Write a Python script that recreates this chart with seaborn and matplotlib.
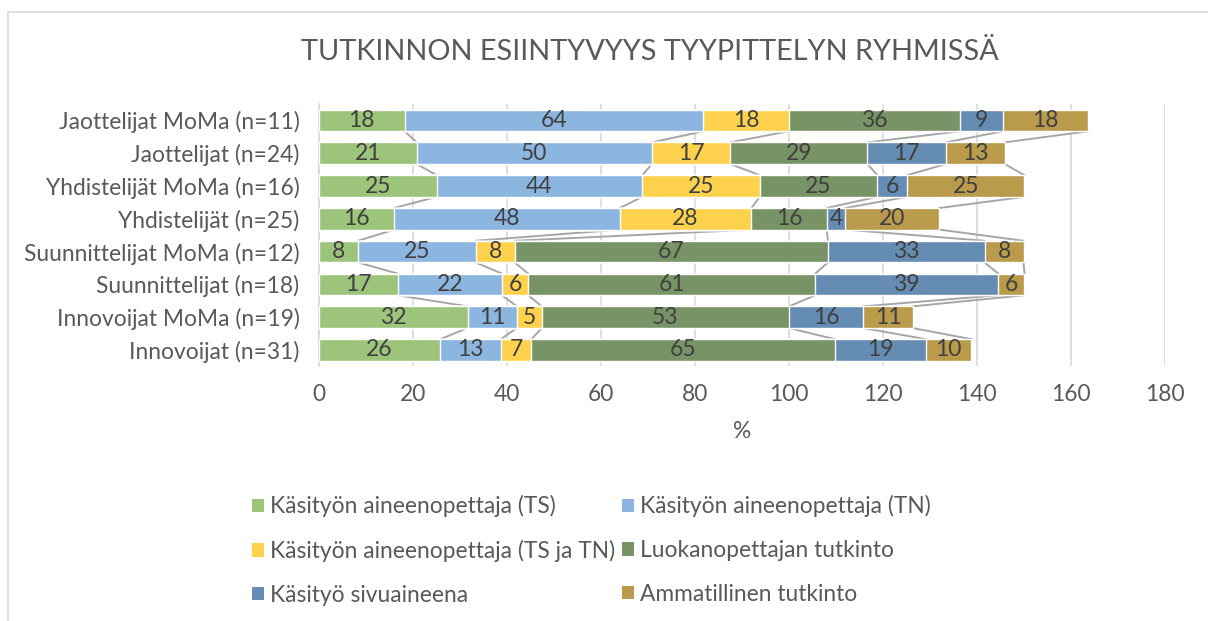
import matplotlib
matplotlib.use('Agg')
import matplotlib.pyplot as plt
import pandas as pd
import seaborn as sns
from matplotlib.patches import Patch, Rectangle

sns.set_style('white')
plt.rcParams['font.family'] = ['Lato', 'DejaVu Sans']

groups = ['Jaottelijat MoMa (n=11)', 'Jaottelijat (n=24)', 'Yhdistelijät MoMa (n=16)',
          'Yhdistelijät (n=25)', 'Suunnittelijat MoMa (n=12)', 'Suunnittelijat (n=18)',
          'Innovoijat MoMa (n=19)', 'Innovoijat (n=31)']

series_names = ['Käsityön aineenopettaja (TS)', 'Käsityön aineenopettaja (TN)',
                'Käsityön aineenopettaja (TS ja TN)', 'Luokanopettajan tutkinto',
                'Käsityö sivuaineena', 'Ammatillinen tutkinto']

ts = [18.2, 20.8, 25.0, 16.0, 8.3, 16.7, 31.6, 25.8]
tn = [63.6, 50.0, 43.8, 48.0, 25.0, 22.2, 10.5, 12.9]
ts_tn = [18.2, 16.7, 25.0, 28.0, 8.3, 5.6, 5.3, 6.5]
luokan = [36.4, 29.2, 25.0, 16.0, 66.7, 61.1, 52.6, 64.5]
sivu = [9.1, 16.7, 6.3, 4.0, 33.3, 38.9, 15.8, 19.4]
ammat = [18.2, 12.5, 25.0, 20.0, 8.3, 5.6, 10.5, 9.7]

colors = ['#9DC47B', '#8CB6E0', '#FFD24E', '#789467', '#658CB3', '#B99B4B']

df = pd.DataFrame({'group': groups})
for name, vals in zip(series_names, [ts, tn, ts_tn, luokan, sivu, ammat]):
    df[name] = vals

cum = df[series_names].cumsum(axis=1)
cum['group'] = groups

fig = plt.figure(figsize=(12.08, 6.21), dpi=100)
ax = fig.add_axes([0.2641, 0.41, 0.7003, 0.4225])

bar_h = 0.66
# stacked bars: draw running totals from the outermost segment inwards
for name, col in reversed(list(zip(series_names, colors))):
    sns.barplot(data=cum, x=name, y='group', orient='h', color=col, saturation=1,
                width=bar_h, ax=ax, zorder=3)

# series lines between neighbouring bars
for name in series_names:
    for i in range(len(groups) - 1):
        ax.plot([cum[name][i], cum[name][i + 1]], [i + bar_h / 2, i + 1 - bar_h / 2],
                color='#A6A6A6', lw=1.4, zorder=2)

# data labels
for name in series_names:
    for i in range(len(groups)):
        v = df[name][i]
        ax.text(cum[name][i] - v / 2, i, str(int(v + 0.5)), ha='center', va='center',
                fontsize=16.5, color='#404040', zorder=4)

fs = 16.4
ax.set_xlim(0, 180)
ax.set_xticks(range(0, 181, 20))
ax.set_ylim(7.5, -0.5)
ax.grid(axis='x', color='#D9D9D9', lw=1.2, zorder=0)
ax.set_axisbelow(True)
for s in ['top', 'right', 'bottom']:
    ax.spines[s].set_visible(False)
ax.spines['left'].set_color('#D9D9D9')
ax.spines['left'].set_linewidth(1.2)
ax.tick_params(axis='both', length=0, labelsize=fs, labelcolor='#595959')
ax.tick_params(axis='y', pad=14)
ax.tick_params(axis='x', pad=13)
ax.set_ylabel('')
ax.set_xlabel('%', fontsize=fs, color='#595959', labelpad=11)

fig.text(0.538, 1 - 52 / 621, 'TUTKINNON ESIINTYVYYS TYYPITTELYN RYHMISSÄ',
         ha='center', va='center', fontsize=20.8, color='#595959')

handles = [Patch(facecolor=c, edgecolor='none', label=n) for n, c in zip(series_names, colors)]
order = [0, 2, 4, 1, 3, 5]
fig.legend([handles[k] for k in order], [series_names[k] for k in order], ncol=2,
           loc='upper left', bbox_to_anchor=(0.199, 1 - 484 / 621), frameon=False,
           fontsize=fs, labelcolor='#595959', handlelength=0.55, handleheight=0.55,
           handletextpad=0.25, columnspacing=0.3, labelspacing=0.99, borderpad=0)

fig.add_artist(Rectangle((8 / 1208, -0.1), 1.2, 1 - 12 / 621 + 0.1, transform=fig.transFigure,
                         fill=False, ec='#D9D9D9', lw=1.2))

fig.savefig('out.png', dpi=100)
